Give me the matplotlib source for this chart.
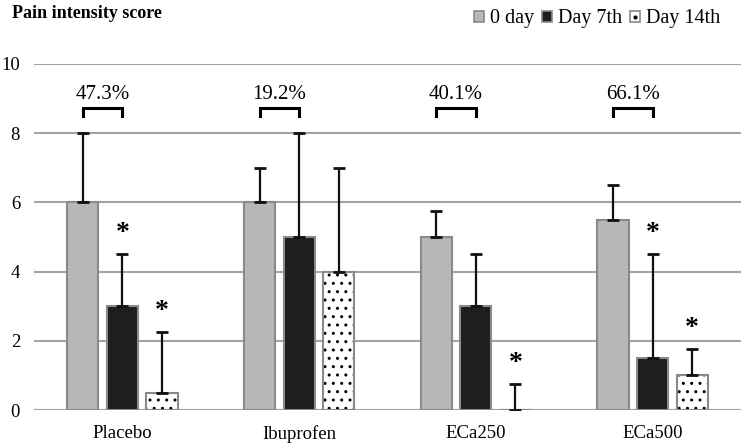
import matplotlib
matplotlib.use("Agg")
import matplotlib.pyplot as plt
import numpy as np
from matplotlib.patches import Patch
from matplotlib.lines import Line2D
from matplotlib.legend_handler import HandlerTuple

plt.rcParams['font.family'] = ['Liberation Serif', 'DejaVu Serif']
plt.rcParams['hatch.linewidth'] = 1.0

categories = ["Placebo", "Ibuprofen", "ECa250", "ECa500"]
series_names = ["0 day", "Day 7th", "Day 14th"]
day0 = [6, 6, 5, 5.5]
day7 = [3, 5, 3, 1.5]
day14 = [0.5, 4, 0, 1]
err0 = [2, 1, 0.75, 1]
err7 = [1.5, 3, 1.5, 3]
err14 = [1.75, 3, 0.75, 0.75]
reductions = ["47.3%", "19.2%", "40.1%", "66.1%"]
# significance markers: (group index, series index)
stars = [(0, 1), (0, 2), (2, 2), (3, 1), (3, 2)]

fig = plt.figure(figsize=(7.44, 4.44), dpi=100)
ax = fig.add_axes([34/744, 34/444, 707/744, 346/444])

x = np.arange(len(categories))
w = 0.176
step = 0.224
offsets = [-step, 0, step]
values = [day0, day7, day14]
errs = [err0, err7, err14]
faces = ['#b7b7b7', '#1e1e1e', 'white']
hatches = [None, None, '..']
edge = '#8a8a8a'

for i in range(3):
    if hatches[i]:
        ax.bar(x + offsets[i], values[i], w, color=faces[i], edgecolor='black',
               linewidth=0, hatch=hatches[i], zorder=3)
        ax.bar(x + offsets[i], values[i], w, fill=False, edgecolor=edge,
               linewidth=1.5, zorder=3)
    else:
        ax.bar(x + offsets[i], values[i], w, color=faces[i], edgecolor=edge,
               linewidth=1.5, zorder=3)
    ax.errorbar(x + offsets[i], values[i], yerr=[np.zeros(4), errs[i]],
                fmt='none', ecolor='#111111', elinewidth=1.6, capsize=4,
                capthick=2, zorder=4)

for g, s in stars:
    top = values[s][g] + errs[s][g]
    ax.text(x[g] + offsets[s], top + 0.6, '*', ha='center', va='center',
            fontsize=20, fontweight='bold', color='black', zorder=5)

for g, lab in enumerate(reductions):
    x1 = x[g] + offsets[0]
    x2 = x[g] + offsets[1]
    ax.plot([x1, x1, x2, x2], [8.5, 8.72, 8.72, 8.5], color='black', lw=2.2,
            solid_joinstyle='miter', zorder=5)
    ax.text((x1 + x2) / 2, 9.12, lab, ha='center', va='center', fontsize=15,
            color='black')

ax.set_xlim(-0.5, 3.5)
ax.set_ylim(0, 10)
ax.set_yticks(range(0, 11, 2))
ax.set_xticks(x)
ax.set_xticklabels(categories, fontsize=13.5)
ax.tick_params(axis='y', labelsize=13.5, length=0, pad=10)
ax.tick_params(axis='x', length=0, pad=11)
ax.yaxis.grid(True, color='#a3a3a3', linewidth=1.5, zorder=0)
ax.set_axisbelow(True)
for sp in ax.spines.values():
    sp.set_visible(False)
ax.axhline(0, color='#a3a3a3', linewidth=1.5, zorder=2)

fig.text(12/744, 1 - 14/444, "Pain intensity score", fontsize=13,
         fontweight='bold', ha='left', va='center')

handles = [Patch(facecolor=faces[i], edgecolor=edge, linewidth=1.2)
           for i in range(3)]
dot = Line2D([0], [0], marker='o', markersize=2, color='black',
             linestyle='none')
handles[2] = (handles[2], dot)
fig.legend(handles, series_names, loc='center right',
           bbox_to_anchor=(0.982, 1 - 19/444), ncol=3, frameon=False,
           fontsize=14.5, handlelength=0.5, handleheight=0.5,
           handletextpad=0.3, columnspacing=0.4, borderpad=0,
           handler_map={tuple: HandlerTuple(ndivide=1, pad=0)})

fig.savefig("out.png", dpi=100)
